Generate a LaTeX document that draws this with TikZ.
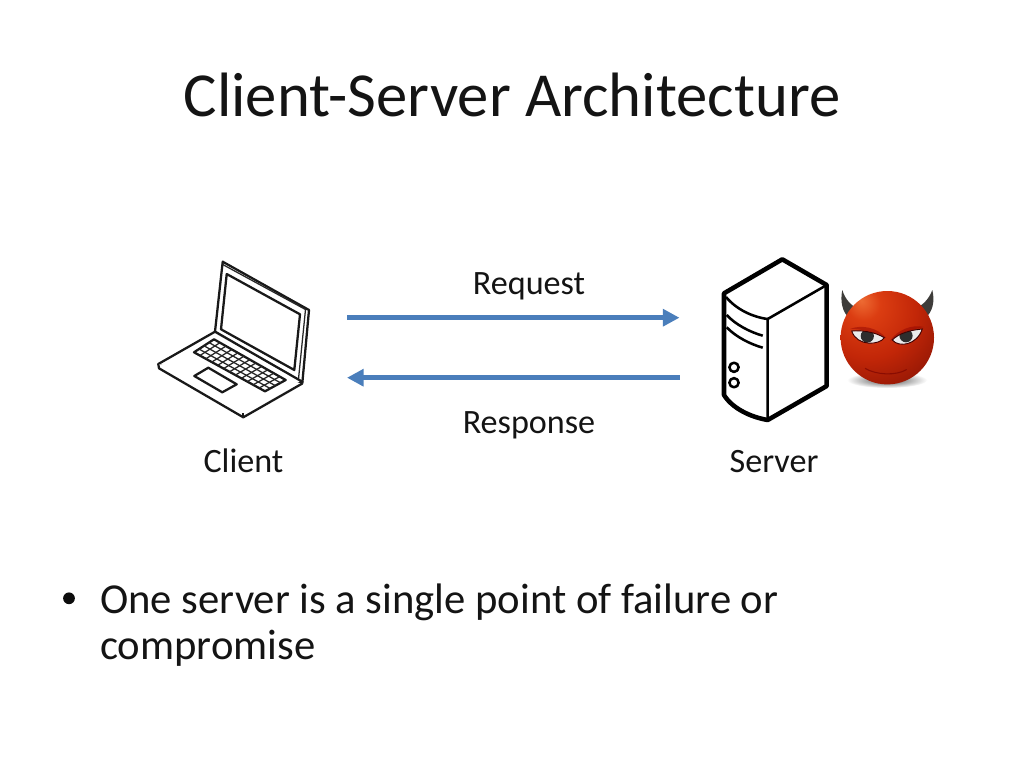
\documentclass[tikz,border=0pt]{standalone}
\usepackage{fontspec}
\setmainfont{Carlito}
\usetikzlibrary{arrows.meta,calc}
\definecolor{arrowblue}{HTML}{4A7EBB}
\definecolor{hornc}{HTML}{3E3C3A}
\pgfdeclareradialshading{devilball}{\pgfpoint{-14bp}{20bp}}{%
  rgb(0bp)=(0.93,0.42,0.20);
  rgb(9bp)=(0.86,0.24,0.07);
  rgb(26bp)=(0.76,0.15,0.03);
  rgb(42bp)=(0.58,0.09,0.02);
  rgb(60bp)=(0.34,0.05,0.01);
  rgb(100bp)=(0.28,0.04,0.01)}
\tikzset{
  px/.style={x=0.75pt,y=-0.75pt},
  lbl/.style={inner sep=0pt,font=\fontsize{25.6}{30}\selectfont,text=black!92},
  flow/.style={arrowblue,line width=3.6pt,-{Triangle[length=12.5pt,width=12.5pt]}},
  lap/.style={draw=black!90,line width=1.7pt,line join=round,fill=white},
  lapthin/.style={draw=black!85,line width=0.95pt},
  srv/.style={draw=black,line width=1.9pt,line join=round},
  srvb/.style={draw=black,line width=3.4pt,line join=round},
}
\begin{document}
\begin{tikzpicture}[px]
\useasboundingbox (0,0) rectangle (1024,768);
\fill[white] (0,0) rectangle (1024,768);
% Text
\node[inner sep=0pt,anchor=base,font=\fontsize{47}{56}\selectfont,text=black!92] (title) at (512,116.5) {Client-Server Architecture};
\node[lbl,anchor=base] (req) at (529,294) {Request};
\node[lbl,anchor=base] (resp) at (529,433) {Response};
\node[lbl,anchor=base] (clientlbl) at (243.5,472) {Client};
\node[lbl,anchor=base] (serverlbl) at (774,472) {Server};
\node[inner sep=0pt,anchor=base west,font=\fontsize{32}{37}\selectfont,text=black!92] (line1) at (100,613.5) {One server is a single point of failure or};
\node[inner sep=0pt,anchor=base west,font=\fontsize{32}{37}\selectfont,text=black!92] (line2) at (100,659.5) {compromise};
\node[circle,fill=black!95,minimum size=8.8pt,inner sep=0pt] (bullet) at (69,598.3) {};
% Connectors
\coordinate (cR) at (347,317.7);
\coordinate (sR) at (679.5,317.7);
\coordinate (sL) at (679.5,377.7);
\coordinate (cL) at (347,377.7);
\draw[flow] (cR) -- (sR);
\draw[flow] (sL) -- (cL);
% Laptop
\draw[lap] (222.7,261.7) -- (309,310) -- (302.3,383.3) -- (298,381) -- (215,331.7) -- cycle;
\draw[lapthin] (222.7,264.5) -- (305.5,309.5) -- (298.5,379);
\draw[lap] (226.7,274) -- (300,314.3) -- (294.3,370) -- (221,329.3) -- cycle;
\draw[lap] (158.3,364) -- (215,331.7) -- (302.3,381.7) -- (243.3,413.3) -- cycle;
\draw[lap] (158.3,364) -- (159,368.3) -- (243.3,417.3) -- (302.3,383.5);
\draw[lap] (243.3,413.3) -- (243.3,417.3);
\draw[lap] (214,339.3) -- (285.7,380) -- (265,391.3) -- (194,352.3) -- cycle;
\foreach \t in {0.25,0.5,0.75}
  \draw[lapthin] ($(214,339.3)!\t!(194,352.3)$) -- ($(285.7,380)!\t!(265,391.3)$);
\foreach \t in {0.0833,0.1667,0.25,0.3333,0.4167,0.5,0.5833,0.6667,0.75,0.8333,0.9167}
  \draw[lapthin] ($(214,339.3)!\t!(285.7,380)$) -- ($(194,352.3)!\t!(265,391.3)$);
\draw[lap] (208.3,367.7) -- (236.7,384.3) -- (222.3,392.3) -- (194.3,376) -- cycle;
% Server
\draw[srvb] (724,293.3) -- (782.3,259.3) -- (826.7,285) -- (826.7,386) -- (767.7,420)
  .. controls (750,417) and (732,408) .. (724,395) -- cycle;
\draw[srv] (826.7,285) -- (767.7,319) -- (767.7,420);
\draw[srv] (726,297) .. controls (736,309) and (752,317) .. (767.7,319);
\draw[srv] (726.7,315) .. controls (736,325) and (750,332) .. (762.7,335.7);
\draw[srv] (726.7,327.3) .. controls (736,337) and (750,344) .. (762.7,347.7);
\draw[srv] (734,367.3) circle (4.6);
\draw[srv] (734,382.7) circle (4.6);
% Devil
\shade[inner color=black!70,outer color=white] (887,380) ellipse (40 and 8);
\fill[hornc] (842.3,290) .. controls (840,301) and (842,312) .. (850,319) -- (859,309)
  .. controls (851,306) and (845,299) .. (842.3,290) -- cycle;
\fill[hornc] (932.3,290) .. controls (935,301) and (933,312) .. (924.3,319) -- (915,309)
  .. controls (923,305) and (929,299) .. (932.3,290) -- cycle;
\shade[shading=devilball] (887.3,337.7) circle (46.7);
% brows
\fill[red!55!black,opacity=0.45] (850,329) .. controls (862,324) and (878,328) .. (886,338) -- (880,336) .. controls (872,331) and (860,329) .. (850,329) -- cycle;
\fill[red!55!black,opacity=0.45] (924,327) .. controls (912,324) and (897,330) .. (890,341) -- (895,338) .. controls (903,332) and (914,329) .. (924,327) -- cycle;
% eyes
\begin{scope}
\clip (851.7,331) .. controls (862,330) and (875,332) .. (884.3,337.7)
  .. controls (880,345) and (857,347) .. (851.7,331) -- cycle;
\fill[black!8] (845,325) rectangle (890,350);
\fill[black!82] (867.3,336) circle (6.6);
\end{scope}
\draw[red!25!black,line width=0.7pt] (851.7,331) .. controls (862,330) and (875,332) .. (884.3,337.7)
  .. controls (880,345) and (857,347) .. (851.7,331) -- cycle;
\begin{scope}
\clip (922.3,329) .. controls (911,330) and (899,333) .. (892.3,340)
  .. controls (899,348) and (917,345) .. (922.3,329) -- cycle;
\fill[black!8] (888,325) rectangle (926,350);
\fill[black!82] (906,335.7) circle (6.6);
\end{scope}
\draw[red!25!black,line width=0.7pt] (922.3,329) .. controls (911,330) and (899,333) .. (892.3,340)
  .. controls (899,348) and (917,345) .. (922.3,329) -- cycle;
% smile
\draw[red!45!black,line width=0.8pt,opacity=0.6] (865,368.3) .. controls (876,375) and (896,376) .. (906.7,369.5);
\end{tikzpicture}
\end{document}
